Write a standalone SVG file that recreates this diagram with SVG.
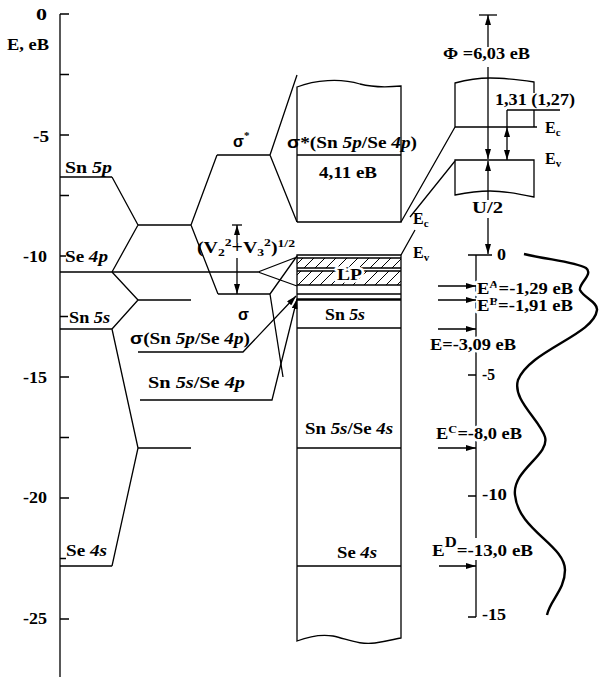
<svg xmlns="http://www.w3.org/2000/svg" width="599" height="677" viewBox="0 0 599 677">
<defs>
<style>
.l{stroke:#000;stroke-width:1.3;fill:none}
.th{stroke:#000;stroke-width:2.4;fill:none}
.t{font-family:"Liberation Serif","Times New Roman",serif;font-weight:bold;font-size:16px;fill:#000}
.g{font-family:"Liberation Sans",Arial,sans-serif;font-weight:bold}
.i{font-style:italic}
.h{paint-order:stroke;stroke:#fff;stroke-width:5px;stroke-linejoin:round}
.sup{font-size:11px}
</style>
<marker id="ah" viewBox="0 0 10 6" refX="10" refY="3" markerWidth="10" markerHeight="6" orient="auto-start-reverse" markerUnits="userSpaceOnUse"><path d="M0,0 L10,3 L0,6 z" fill="#000"/></marker>
<pattern id="hatch" patternUnits="userSpaceOnUse" width="11" height="11"><path d="M0,11 L11,0 M-3,3 L3,-3 M8,14 L14,8" stroke="#000" stroke-width="1"/></pattern>
</defs>
<rect width="599" height="677" fill="#fff"/>

<g id="axis-left">
<path class="l" d="M60,14 V677 M60,14 H69 M60,74.5 H69 M60,135 H69 M60,195.5 H69 M60,256 H66 M60,316.5 H68 M60,377 H69 M60,437.5 H69 M60,498 H69 M60,558.5 H66 M60,619 H69"/>
<text class="t" x="36" y="20" textLength="11" lengthAdjust="spacingAndGlyphs">0</text>
<text class="t" x="7" y="50" textLength="42" lengthAdjust="spacingAndGlyphs">E, eB</text>
<text class="t" x="33" y="142" textLength="16" lengthAdjust="spacingAndGlyphs">-5</text>
<text class="t" x="23" y="262" textLength="24" lengthAdjust="spacingAndGlyphs">-10</text>
<text class="t" x="23" y="383" textLength="24" lengthAdjust="spacingAndGlyphs">-15</text>
<text class="t" x="23" y="503" textLength="24" lengthAdjust="spacingAndGlyphs">-20</text>
<text class="t" x="23" y="624" textLength="24" lengthAdjust="spacingAndGlyphs">-25</text>
</g>

<g id="atomic-levels">
<path class="l" d="M60,177 H112 M60,272 H258 M60,329 H112 M60,566 H112"/>
<text class="t" x="65" y="173" textLength="47" lengthAdjust="spacingAndGlyphs">Sn <tspan class="i">5p</tspan></text>
<text class="t" x="65" y="262" textLength="43" lengthAdjust="spacingAndGlyphs">Se <tspan class="i">4p</tspan></text>
<text class="t" x="69" y="323" textLength="41" lengthAdjust="spacingAndGlyphs">Sn <tspan class="i">5s</tspan></text>
<text class="t" x="66" y="556" textLength="41" lengthAdjust="spacingAndGlyphs">Se <tspan class="i">4s</tspan></text>
</g>

<g id="molecular-levels">
<path class="l" d="M138,225 H191 M217,155 H270 M138,300 H191 M218,294 H270 M138,448 H191"/>
<text class="t" x="233" y="147"><tspan class="g">σ</tspan><tspan class="sup" dy="-8">*</tspan></text>
<text class="t" x="238" y="320"><tspan class="g">σ</tspan></text>
<text class="t" x="197" y="253" textLength="98" lengthAdjust="spacingAndGlyphs">(V<tspan class="sup" dy="3">2</tspan><tspan class="sup" dy="-10">2</tspan><tspan dy="7">+V</tspan><tspan class="sup" dy="3">3</tspan><tspan class="sup" dy="-10">2</tspan><tspan dy="7">)</tspan><tspan class="sup" dy="-6">1/2</tspan></text>
<text class="t" x="130" y="344" textLength="120" lengthAdjust="spacingAndGlyphs"><tspan class="g">σ</tspan>(Sn <tspan class="i">5p</tspan>/Se <tspan class="i">4p</tspan>)</text>
<text class="t" x="148" y="388" textLength="97" lengthAdjust="spacingAndGlyphs">Sn <tspan class="i">5s</tspan>/Se <tspan class="i">4p</tspan></text>
</g>

<g id="band-sigma-star">
<path class="l" d="M297,222 V87 C315,80 340,78 360,84 C375,88 390,87 401,86 V222 H297 M297,155 H401"/>
<text class="t" x="287" y="148" textLength="130" lengthAdjust="spacingAndGlyphs"><tspan class="g">σ</tspan>*(Sn <tspan class="i">5p</tspan>/Se <tspan class="i">4p</tspan>)</text>
<text class="t" x="319" y="178" textLength="58" lengthAdjust="spacingAndGlyphs">4,11 eB</text>
</g>

<g id="band-lower">
<rect x="297" y="258" width="104" height="10" fill="url(#hatch)"/>
<rect x="297" y="271" width="104" height="14" fill="url(#hatch)"/>
<path class="l" d="M297,255 V641 C310,636 320,634 333,636 C350,640 360,645 375,643 C388,641 395,639 401,638 V255 Z M297,258 H401 M297,268 H401 M297,271 H401 M297,285 H401 M297,294 H401 M297,328 H401 M297,448 H401 M297,566 H401"/>
<path class="th" d="M297,299.5 H401"/>
<text class="t h" x="337" y="280" textLength="25" lengthAdjust="spacingAndGlyphs" style="font-size:17px">LP</text>
<text class="t" x="325" y="320" textLength="40" lengthAdjust="spacingAndGlyphs">Sn <tspan class="i">5s</tspan></text>
<text class="t" x="305" y="434" textLength="88" lengthAdjust="spacingAndGlyphs">Sn <tspan class="i">5s</tspan>/Se <tspan class="i">4s</tspan></text>
<text class="t" x="337" y="558" textLength="40" lengthAdjust="spacingAndGlyphs">Se <tspan class="i">4s</tspan></text>
</g>

<g id="band-right">
<path class="l" d="M455,127 V83 C470,79 480,78 490,78 C505,78 520,80 534,82 V93 M534,110 V127 M455,127 H537"/>
<path class="l" d="M455,160 H534 V197 C520,194 505,191 490,191 C480,191 470,192 455,195 Z"/>
<text class="t" x="443" y="59" textLength="87" lengthAdjust="spacingAndGlyphs">Φ =6,03 eB</text>
<text class="t" x="495" y="105" textLength="80" lengthAdjust="spacingAndGlyphs">1,31 (1,27)</text>
<text class="t" x="545" y="133">E<tspan class="sup" dy="3">c</tspan></text>
<text class="t" x="545" y="164">E<tspan class="sup" dy="3">v</tspan></text>
<text class="t" x="472" y="213" textLength="31" lengthAdjust="spacingAndGlyphs">U/2</text>
<text class="t" x="413" y="224">E<tspan class="sup" dy="3">c</tspan></text>
<text class="t" x="413" y="258">E<tspan class="sup" dy="3">v</tspan></text>
</g>

<g id="axis-right">
<path class="l" d="M476,255 V538 M476,560 V617 M468,255 H492 M468,375 H476 M468,496 H476 M468,617 H476"/>
<text class="t" x="497" y="260" textLength="9" lengthAdjust="spacingAndGlyphs">0</text>
<text class="t" x="482" y="380" textLength="13" lengthAdjust="spacingAndGlyphs">-5</text>
<text class="t" x="482" y="500" textLength="25" lengthAdjust="spacingAndGlyphs">-10</text>
<text class="t" x="482" y="620" textLength="24" lengthAdjust="spacingAndGlyphs">-15</text>
<text class="t h" x="477" y="294" textLength="96" lengthAdjust="spacingAndGlyphs">E<tspan class="sup" dy="-6">A</tspan><tspan dy="6">=-1,29 eB</tspan></text>
<text class="t h" x="477" y="311" textLength="96" lengthAdjust="spacingAndGlyphs">E<tspan class="sup" dy="-6">B</tspan><tspan dy="6">=-1,91 eB</tspan></text>
<text class="t h" x="430" y="350" textLength="86" lengthAdjust="spacingAndGlyphs">E=-3,09 eB</text>
<text class="t h" x="436" y="439" textLength="86" lengthAdjust="spacingAndGlyphs">E<tspan class="sup" dy="-6">C</tspan><tspan dy="6">=-8,0 eB</tspan></text>
<text class="t h" x="432" y="556" textLength="101" lengthAdjust="spacingAndGlyphs">E<tspan class="sup" dy="-9" style="font-size:14px">D</tspan><tspan dy="9">=-13,0 eB</tspan></text>
<path class="th" d="M524,254 C550,260 575,262 586,268 C594,274 578,284 580,290 C584,298 598,302 597,310 C594,335 530,350 518,380 C512,400 540,420 545,437 C550,455 512,470 515,495 C518,530 565,545 565,570 C565,590 550,600 547,615"/>
</g>

<g id="connectors">
<path class="l" d="M112,177 L138,225 M191,225 L217,155 M270,155 L297,75 M270,155 L297,222 M112,272 L138,225 M112,272 L138,300 M112,329 L138,300 M112,329 L138,448 M112,566 L138,448 M191,225 L218,294 M258,272 L297,257 M258,272 L297,286 M270,294 L297,256 M270,294 L283,377 M455,127 L401,222 M455,161 L410,217 M415,230 L401,255"/>
<path class="l" d="M232,225 H242"/>
<path class="l" marker-end="url(#ah)" d="M237,243 V225"/>
<path class="l" marker-end="url(#ah)" d="M237,258 V294"/>
<path class="l" marker-end="url(#ah)" d="M138,352 H243 L296,296"/>
<path class="l" marker-end="url(#ah)" d="M140,400 H272 L297,299"/>
<path class="l" d="M479,15 H497"/>
<path class="l" marker-end="url(#ah)" d="M488,47 V15"/>
<path class="l" marker-end="url(#ah)" d="M488,67 V159"/>
<path class="l" marker-end="url(#ah)" d="M488,200 V161"/>
<path class="l" marker-end="url(#ah)" d="M488,218 V254"/>
<path class="l" d="M507,110 H560 M507,110 V127"/>
<path class="l" marker-start="url(#ah)" marker-end="url(#ah)" d="M507,127 V160"/>
<path class="l" marker-end="url(#ah)" d="M438,286 H476"/>
<path class="l" marker-end="url(#ah)" d="M438,300 H476"/>
<path class="l" marker-end="url(#ah)" d="M438,329 H476"/>
<path class="l" marker-end="url(#ah)" d="M438,448 H476"/>
<path class="l" marker-end="url(#ah)" d="M439,566 H476"/>
</g>
</svg>
